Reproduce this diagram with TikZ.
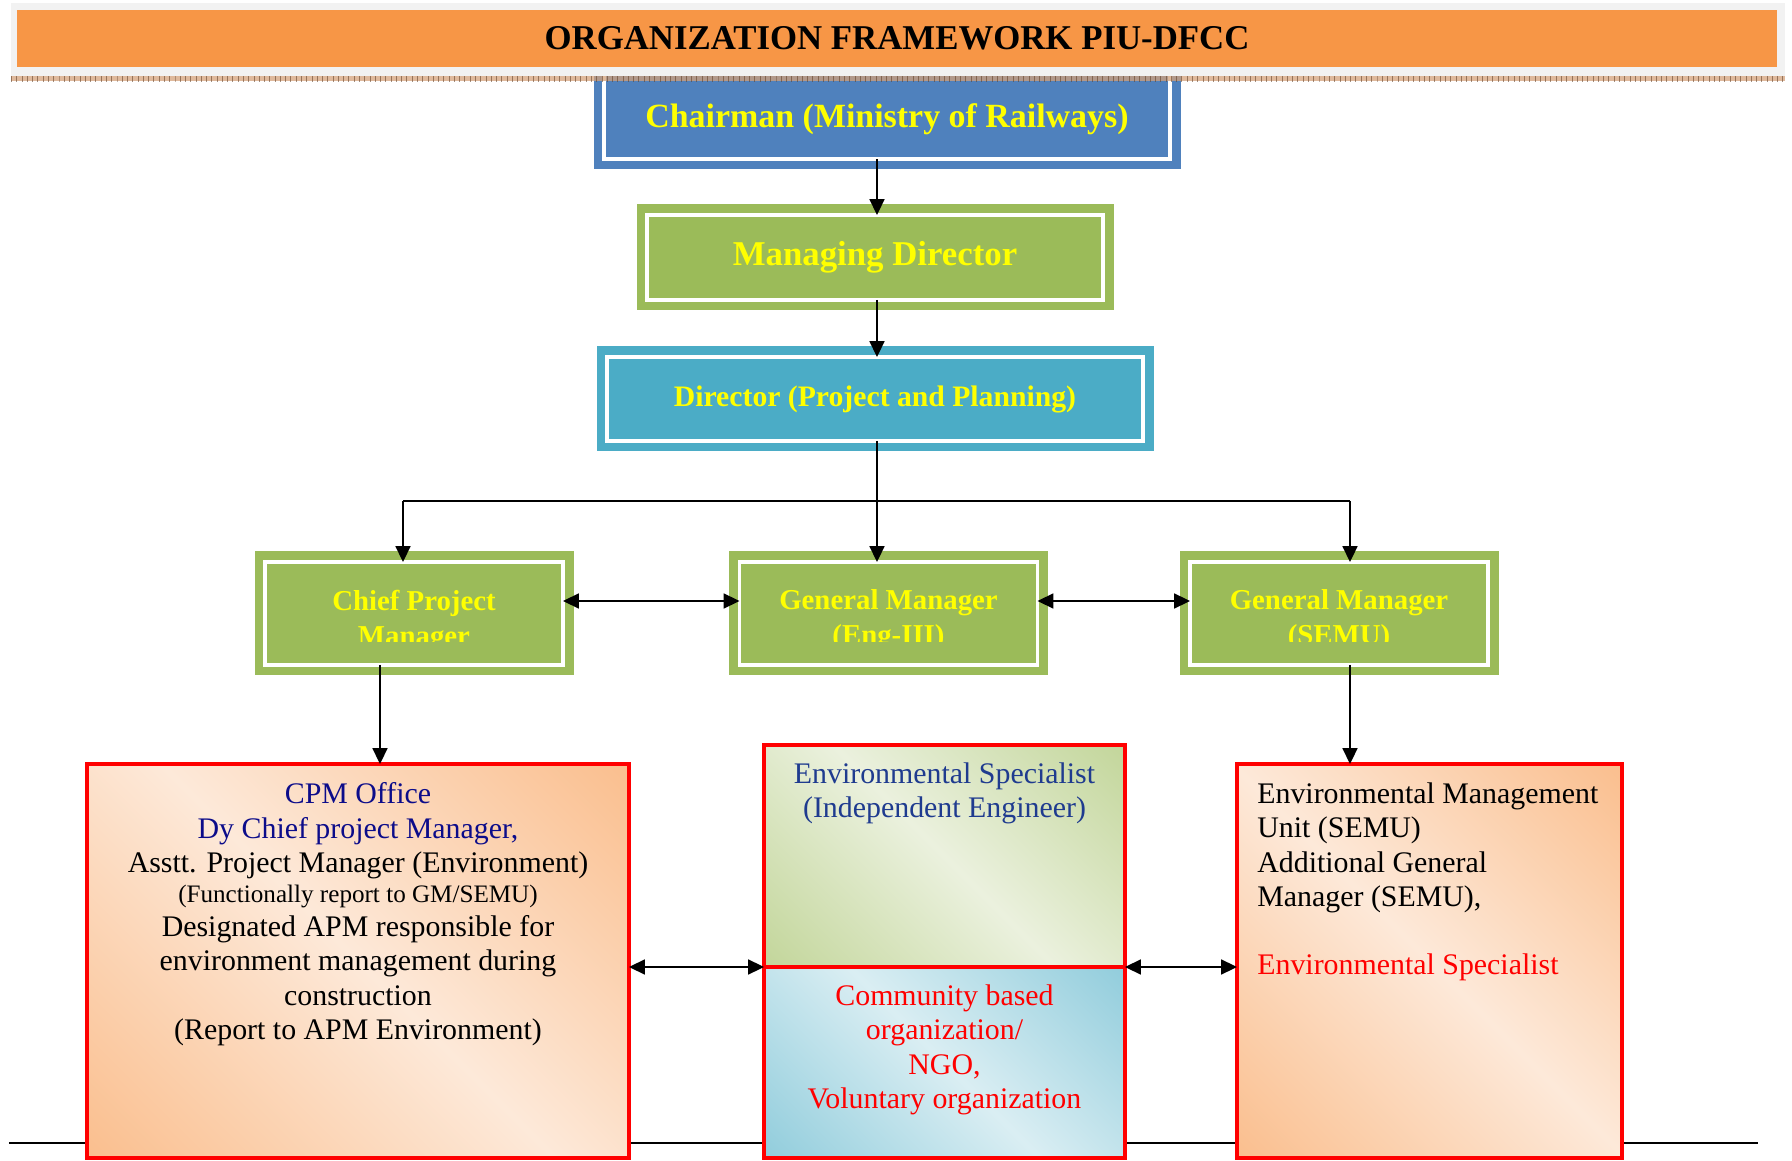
\documentclass[tikz,border=0pt]{standalone}
\usepackage{fontspec}
\setmainfont{Liberation Serif}
\usetikzlibrary{arrows.meta,positioning,patterns}

\definecolor{titleorange}{HTML}{F79646}
\definecolor{titlegray}{HTML}{F2F2F2}
\definecolor{stripbrown}{HTML}{C98B5A}
\definecolor{chairblue}{HTML}{4F81BD}
\definecolor{olivegreen}{HTML}{9BBB59}
\definecolor{tealblue}{HTML}{4BACC6}
\definecolor{headyellow}{HTML}{FFFF00}
\definecolor{peachdark}{HTML}{FABF8F}
\definecolor{peachlight}{HTML}{FDE9D9}
\definecolor{greendark}{HTML}{C3D69B}
\definecolor{greenlight}{HTML}{EBF1DE}
\definecolor{bluedark}{HTML}{92CDDC}
\definecolor{bluelight}{HTML}{DAEEF3}
\definecolor{cpmnavy}{HTML}{0C0C8A}
\definecolor{specblue}{HTML}{1F3B8F}

\pgfdeclarehorizontalshading{peachband}{100bp}{color(0bp)=(peachdark); color(15bp)=(peachdark); color(50bp)=(peachlight); color(85bp)=(peachdark); color(100bp)=(peachdark)}
\pgfdeclarehorizontalshading{greenband}{100bp}{color(0bp)=(greendark); color(15bp)=(greendark); color(50bp)=(greenlight); color(85bp)=(greendark); color(100bp)=(greendark)}
\pgfdeclarehorizontalshading{blueband}{100bp}{color(0bp)=(bluedark); color(15bp)=(bluedark); color(50bp)=(bluelight); color(85bp)=(bluedark); color(100bp)=(bluedark)}

\begin{document}
\begin{tikzpicture}[
  orgbox/.style={draw=white, line width=2pt, fill=#1, preaction={draw=#1, line width=0.42cm}, inner sep=0pt, outer sep=0pt},
  redbox/.style={draw=red, line width=2.2pt, shade, shading=#1, shading angle=45, inner sep=0pt, outer sep=0pt},
  body/.style={font=\fontsize{17}{19.5}\selectfont, inner sep=0pt, align=center},
  rowtext/.style={text=headyellow, font=\fontsize{16.4}{19.9}\selectfont\bfseries, inner sep=0pt, align=center},
  wire/.style={line width=1pt},
  link/.style={wire, -{Triangle[length=9pt,width=8.5pt]}},
  twoway/.style={wire, {Triangle[length=9pt,width=8.5pt]}-{Triangle[length=9pt,width=8.5pt]}}
]
\useasboundingbox (0,0) rectangle (35.84,-23.22);

% line along the foot of the page
\draw[line width=1.2pt] (0.18,-22.86) -- (35.16,-22.86);

% top of the chart, its upper edge hidden under the title
\node[orgbox=chairblue, minimum width=11.32cm, minimum height=1.86cm] (chair) at (17.74,-2.25) {};
\node[text=headyellow, font=\fontsize{19.3}{23}\selectfont\bfseries, inner sep=0pt] (chairtxt) at (17.74,-2.39) {Chairman (Ministry of Railways)};

\node[fill=titlegray, minimum width=35.48cm, minimum height=1.46cm, inner sep=0pt] (titlebox) at (17.96,-0.79) {};
\node[fill=titleorange, minimum width=35.2cm, minimum height=1.14cm, inner sep=0pt, font=\fontsize{19.8}{24}\selectfont\bfseries] (title) at (17.94,-0.77) {ORGANIZATION FRAMEWORK PIU-DFCC};
\fill[stripbrown!80, opacity=0.75] (titlebox.south west) rectangle ([yshift=-0.1cm]titlebox.south east);
\fill[pattern=vertical lines, pattern color=stripbrown!50!black, opacity=0.6] (titlebox.south west) rectangle ([yshift=-0.1cm]titlebox.south east);

\node[orgbox=olivegreen, minimum width=9.12cm, minimum height=1.70cm, text=headyellow, font=\fontsize{19.8}{24}\selectfont\bfseries] (md) at (17.50,-5.15) {Managing Director};
\node[orgbox=tealblue, minimum width=10.72cm, minimum height=1.68cm, text=headyellow, font=\fontsize{16.9}{20}\selectfont\bfseries] (dir) at (17.50,-7.98) {Director (Project and Planning)};

% second row, text cut off at the bottom
\foreach \nm/\x/\txt in {cpm/8.28/{Chief Project\\Manager}, eng/17.77/{General Manager\\(Eng-III)}, semu/26.78/{General Manager\\(SEMU)}}{
  \node[orgbox=olivegreen, minimum width=5.96cm, minimum height=2.06cm] (\nm) at (\x,-12.27) {};
  \begin{scope}
    \clip (\nm.north west) rectangle ([yshift=-0.57cm]\nm.east);
    \node[rowtext, below=0.55cm of \nm.north] {\txt};
  \end{scope}
}

% bottom boxes
\node[redbox=peachband, minimum width=10.84cm, minimum height=7.88cm] (office) at (7.16,-19.22) {};
\node[redbox=greenband, minimum width=7.22cm, minimum height=4.44cm] (iesp) at (18.89,-17.12) {};
\node[redbox=blueband, minimum width=7.22cm, minimum height=3.82cm] (cbo) at (18.89,-21.25) {};
\node[redbox=peachband, minimum width=7.70cm, minimum height=7.88cm] (semubox) at (28.59,-19.22) {};

\node[body, below=0.37cm of office.north] (officetxt) {{\color{cpmnavy}CPM Office}\\
  {\color{cpmnavy}Dy Chief project Manager,}\\
  Asstt. Project Manager (Environment)\\[-2.5pt]
  {\fontsize{14.3}{17}\selectfont (Functionally report to GM/SEMU)}\\
  Designated APM responsible for\\
  environment management during\\
  construction\\
  (Report to APM Environment)};
\node[body, text=specblue, below=0.35cm of iesp.north] (iesptxt) {Environmental Specialist\\(Independent Engineer)};
\node[body, text=red, below=0.35cm of cbo.north] (cbotxt) {Community based\\organization/\\NGO,\\Voluntary organization};
\node[body, align=left, below right=0.37cm and 0.4cm of semubox.north west] (semutxt) {Environmental Management\\
  Unit (SEMU)\\
  Additional General\\
  Manager (SEMU),\\[19.5pt]
  {\color{red}Environmental Specialist}};

% connectors
\coordinate (spine) at (17.54,-10.02);
\coordinate (lbr) at (8.06,-10.02);
\coordinate (rbr) at (27.00,-10.02);
\coordinate (peer) at (0,-12.02);
\coordinate (cpmleg) at (7.60,0);
\coordinate (semuleg) at (27.00,0);
\draw[link] (chair.south -| spine) -- (md.north -| spine);
\draw[link] (md.south -| spine) -- (dir.north -| spine);
\draw[link] (dir.south -| spine) -- (eng.north -| spine);
\draw[wire] (lbr) -- (rbr);
\draw[link] (lbr) -- (lbr |- cpm.north);
\draw[link] (rbr) -- (rbr |- semu.north);
\draw[twoway] (cpm.east |- peer) -- (eng.west |- peer);
\draw[twoway] (eng.east |- peer) -- (semu.west |- peer);
\draw[link] (cpm.south -| cpmleg) -- (office.north -| cpmleg);
\draw[link] (semu.south -| semuleg) -- (semubox.north -| semuleg);
\draw[twoway] (office.east |- iesp.south) -- (iesp.south west);
\draw[twoway] (iesp.south east) -- (semubox.west |- iesp.south);
\end{tikzpicture}
\end{document}
